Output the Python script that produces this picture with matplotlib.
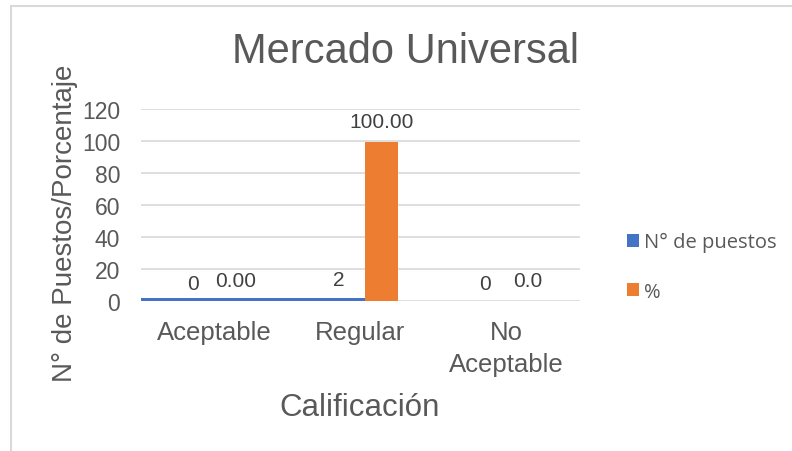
import matplotlib.pyplot as plt
import numpy as np
from matplotlib.patches import Rectangle

categories = ["Aceptable", "Regular", "No\nAceptable"]
puestos = [0, 2, 0]
porcentaje = [0.0, 99.0, 0.0]
puestos_labels = ["0", "2", "0"]
porcentaje_labels = ["0.00", "100.00", "0.0"]
yticks = [0, 20, 40, 60, 80, 100, 120]

blue = "#4472C4"
orange = "#ED7D31"
grey_text = "#595959"

plt.rcParams["font.family"] = ["Liberation Sans", "DejaVu Sans"]

fig = plt.figure(figsize=(7.92, 4.52), dpi=100)
ax = fig.add_axes([0.178, 0.332, 0.554, 0.425])

x = np.arange(len(categories))
bw = 0.22
gap = 0.035

# Orange bars sit right of the category centre
ax.bar(x + gap, porcentaje, width=bw, align="edge", color=orange, label="%", zorder=3)

# Blue bars; the Regular one stretches from the left edge of the plot, as in the source chart
xmin = -0.5
lefts = [c - gap - bw for c in x]
lefts[1] = xmin
widths = [bw, (x[1] + gap) - xmin, bw]
ax.bar(lefts, puestos, width=widths, align="edge", color=blue, label="N° de puestos", zorder=3)

# Data labels
for i in range(len(categories)):
    ax.annotate(puestos_labels[i], (x[i] - gap - bw / 2, puestos[i]),
                xytext=(0, 6), textcoords="offset points", ha="center", va="bottom",
                fontsize=15, color="#404040")
    ax.annotate(porcentaje_labels[i], (x[i] + gap + bw / 2, porcentaje[i]),
                xytext=(0, 8), textcoords="offset points", ha="center", va="bottom",
                fontsize=15, color="#404040")

ax.set_xlim(-0.5, 2.5)
ax.set_ylim(0, 120)
ax.set_yticks(yticks)
ax.set_xticks(x)
ax.set_xticklabels(categories, fontsize=18.5, color=grey_text, linespacing=1.4)
ax.tick_params(axis="y", labelsize=16.5, colors=grey_text, length=0, pad=15)
ax.tick_params(axis="x", length=0, pad=14)
ax.yaxis.grid(True, color="#D9D9D9", linewidth=1.2, zorder=0)
ax.set_axisbelow(True)
for s in ax.spines.values():
    s.set_visible(False)

fig.text(360 / 792, 1 - 408 / 452, "Calificación", ha="center", va="center",
         fontsize=22.5, color=grey_text)
fig.text(65 / 792, 1 - 223 / 452, "N° de Puestos/Porcentaje", ha="center", va="center",
         rotation=90, fontsize=20, color=grey_text)
fig.text(406 / 792, 1 - 52 / 452, "Mercado Universal", ha="center", va="center",
         fontsize=30, color=grey_text)

handles, labels = ax.get_legend_handles_labels()
leg = fig.legend(handles[::-1], labels[::-1], loc="center left",
                 bbox_to_anchor=(0.769, 1 - 268 / 452), frameon=False,
                 prop={"family": ["Open Sans", "DejaVu Sans"], "size": 14.5},
                 labelcolor=grey_text, handlelength=0.6, handleheight=0.6,
                 handletextpad=0.25, labelspacing=1.45)

# Chart border (only top and left edges are visible in the source image)
fig.patches.append(Rectangle((0.014, -0.1), 1.2, 1.085, transform=fig.transFigure,
                             fill=False, edgecolor="#D9D9D9", linewidth=1.5))

fig.savefig("out.png", dpi=100)
